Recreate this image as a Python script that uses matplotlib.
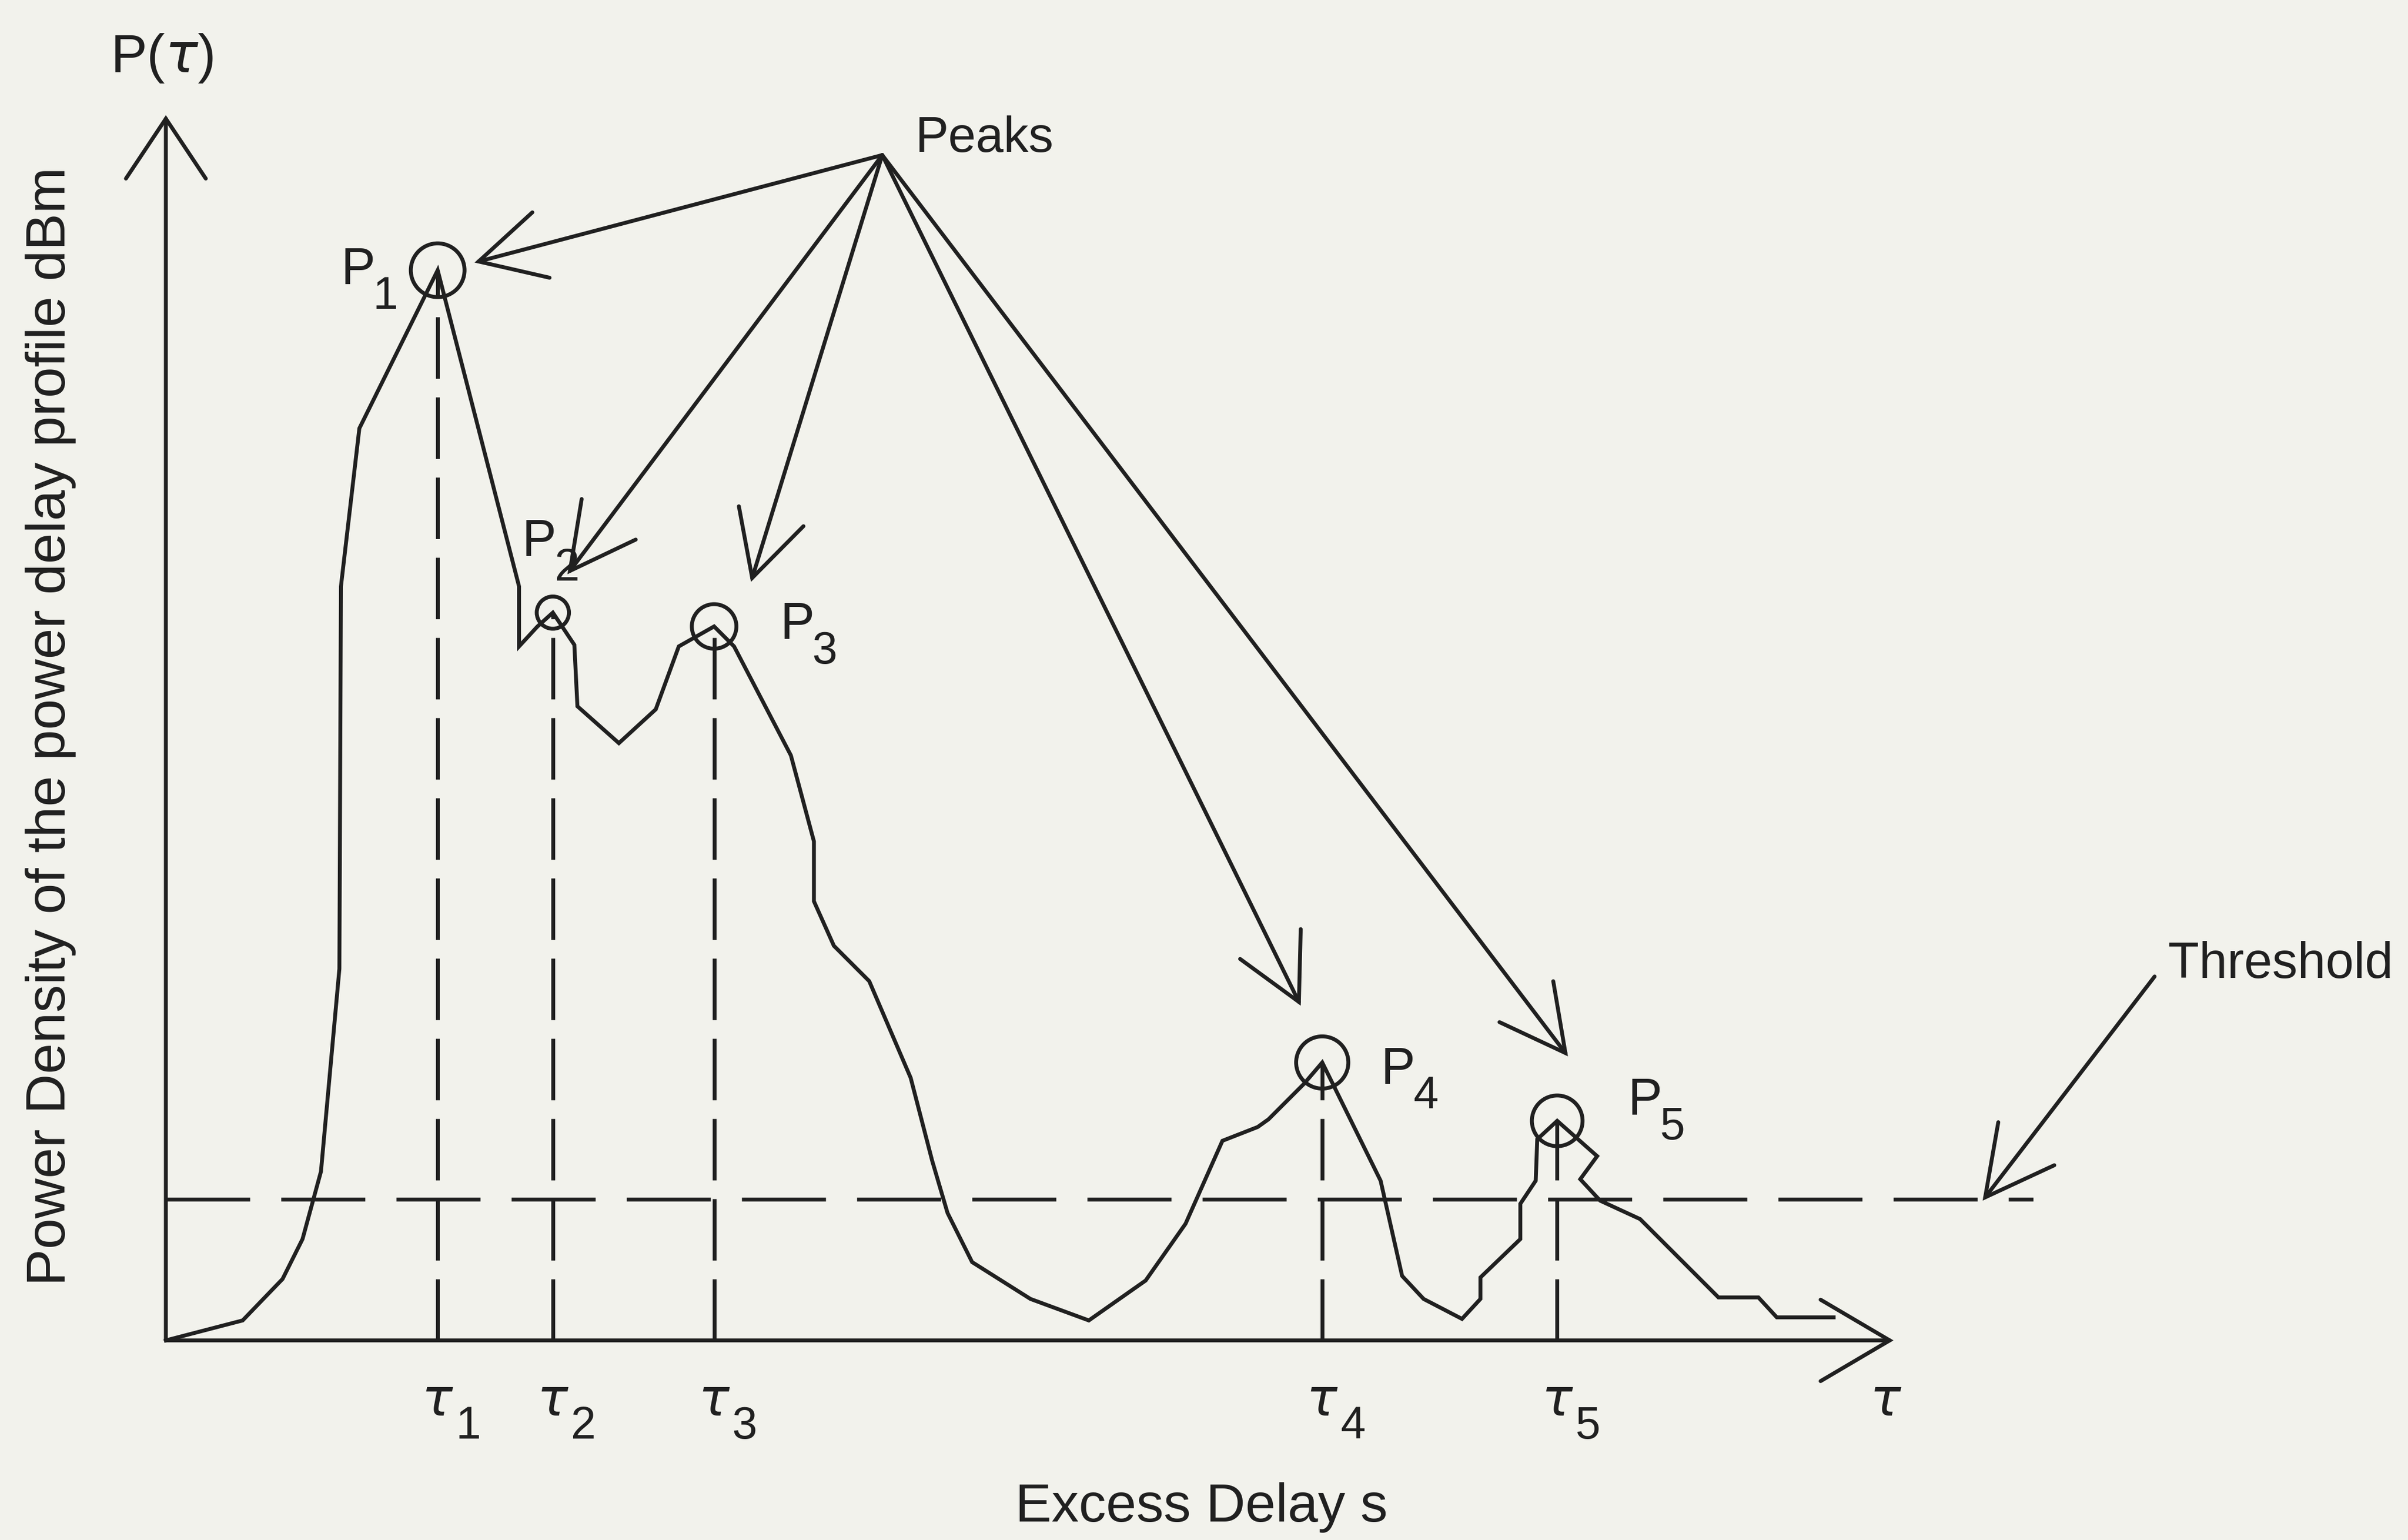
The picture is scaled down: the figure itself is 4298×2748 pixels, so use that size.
import matplotlib
matplotlib.use("Agg")
import matplotlib.pyplot as plt
from matplotlib.patches import Circle, FancyArrowPatch

# ---- data -------------------------------------------------------------
# power delay profile trace: excess delay vs. power (drawing units)
delay = [0.0, 5.0, 7.6, 8.9, 10.1, 11.3, 11.4, 12.6, 17.7, 23.0, 23.0, 24.2,
         25.2, 26.6, 26.8, 29.5, 31.9, 33.4, 35.7, 37.0, 40.7, 42.2, 42.2,
         43.5, 45.8, 48.5, 49.9, 50.9, 52.5, 56.3, 60.1, 63.8, 66.4, 68.8,
         71.1, 71.8, 74.1, 75.3, 79.1, 80.5, 81.9, 84.4, 85.6, 85.6, 88.2,
         88.2, 89.2, 89.3, 90.6, 93.2, 92.1, 93.4, 96.0, 101.1, 103.7, 104.9,
         108.6]
power = [0.0, 1.3, 4.0, 6.6, 11.0, 24.2, 49.1, 59.4, 69.7, 49.1, 45.2, 46.5,
         47.4, 45.3, 41.3, 38.9, 41.1, 45.2, 46.5, 45.2, 38.1, 32.5, 28.6,
         25.7, 23.4, 17.1, 11.7, 8.3, 5.1, 2.7, 1.3, 3.9, 7.6, 13.0, 13.9,
         14.4, 16.7, 18.1, 10.4, 4.2, 2.7, 1.4, 2.7, 4.1, 6.6, 8.9, 10.4,
         13.1, 14.3, 12.0, 10.5, 9.1, 7.9, 2.8, 2.8, 1.5, 1.5]

# indices of the detected peaks in the trace
peak_idx = [8, 12, 18, 37, 48]
peak_names = ["1", "2", "3", "4", "5"]
ring_radius = [1.75, 1.05, 1.45, 1.7, 1.65]

threshold = 9.2
threshold_end = 121.6

# annotation geometry (drawing units)
peaks_text = (48.8, 77.4)
peaks_origin = (46.65, 77.2)
peak_arrow_tips = [(20.1, 70.2), (26.15, 49.9), (38.1, 49.4),
                   (73.9, 21.8), (91.3, 18.5)]
p_label_pos = [(11.4, 68.8), (23.2, 51.1), (40.0, 45.7),
               (79.1, 16.7), (95.2, 14.7)]
threshold_text = (130.4, 23.6)
threshold_arrow = ((129.5, 23.7), (118.3, 9.1))
x_axis_end = 112.5
y_axis_end = 79.8

# ---- style ------------------------------------------------------------
BG = "#f2f2ec"
INK = "#202020"
LW = 5.0
FONT = ["Liberation Sans", "DejaVu Sans"]
plt.rcParams["lines.scale_dashes"] = False
plt.rcParams["mathtext.fontset"] = "dejavusans"

XLIM = (-10.8, 146.0)
YLIM = (-13.0, 87.3)
W_IN, H_IN, DPI = 42.98, 27.48, 100
PT = (W_IN * DPI / (XLIM[1] - XLIM[0])) * 72.0 / DPI  # points per unit

fig = plt.figure(figsize=(W_IN, H_IN), dpi=DPI)
fig.patch.set_facecolor(BG)
ax = fig.add_axes([0, 0, 1, 1])
ax.set_xlim(*XLIM)
ax.set_ylim(*YLIM)
ax.axis("off")


def open_arrow(tail, tip, head_len, head_w):
    style = f"->,head_length={head_len * PT:.2f},head_width={head_w * PT:.2f}"
    ax.add_patch(FancyArrowPatch(tail, tip, arrowstyle=style, mutation_scale=1,
                                 lw=LW, color=INK, shrinkA=0, shrinkB=0,
                                 capstyle="round", joinstyle="miter"))


# axes with open arrow heads
open_arrow((0, 0), (0, y_axis_end), 3.9, 2.6)
open_arrow((0, 0), (x_axis_end, 0), 4.5, 2.65)

# threshold level
ax.plot([0, threshold_end], [threshold, threshold], color=INK, lw=LW,
        linestyle=(0, (108, 40)), solid_capstyle="butt", dash_capstyle="butt")

# profile trace
ax.plot(delay, power, color=INK, lw=LW, solid_joinstyle="miter")

# peaks: dashed drop lines, rings, labels
for i, idx in enumerate(peak_idx):
    tx, py = delay[idx], power[idx]
    ax.plot([tx, tx], [0, py], color=INK, lw=LW, linestyle=(0, (79, 24)),
            dash_capstyle="butt")
    ax.add_patch(Circle((tx, py), ring_radius[i], fill=False, ec=INK, lw=LW))
    lx, ly = p_label_pos[i]
    ax.text(lx, ly, "P", family=FONT, fontsize=66, color=INK,
            ha="left", va="baseline")
    ax.text(lx + 2.1, ly - 1.6, peak_names[i], family=FONT, fontsize=58,
            color=INK, ha="left", va="baseline")
    # delay marks under the axis
    ax.text(tx, -4.9, r"$\tau$", fontsize=66, color=INK,
            ha="center", va="baseline")
    ax.text(tx + 2.0, -6.4, peak_names[i], family=FONT, fontsize=58,
            color=INK, ha="center", va="baseline")

# "Peaks" callout
ax.text(*peaks_text, "Peaks", family=FONT, fontsize=64, color=INK,
        ha="left", va="baseline")
for tip in peak_arrow_tips:
    open_arrow(peaks_origin, tip, 4.2, 2.2)

# "Threshold" callout
ax.text(*threshold_text, "Threshold", family=FONT, fontsize=65, color=INK,
        ha="left", va="baseline")
open_arrow(threshold_arrow[0], threshold_arrow[1], 4.4, 2.3)

# axis titles
ax.text(-3.6, 82.6, r"P($\tau$)", family=FONT, fontsize=70, color=INK,
        ha="left", va="baseline")
ax.text(112.0, -4.9, r"$\tau$", fontsize=66, color=INK, ha="center",
        va="baseline")
ax.text(55.3, -11.8, "Excess Delay s", family=FONT, fontsize=70, color=INK,
        ha="left", va="baseline")
ax.text(-7.5, 40.0, "Power Density of the power delay profile dBm",
        family=FONT, fontsize=71, color=INK, rotation=90,
        ha="center", va="center")

fig.savefig("out.png", dpi=DPI, facecolor=fig.get_facecolor())
